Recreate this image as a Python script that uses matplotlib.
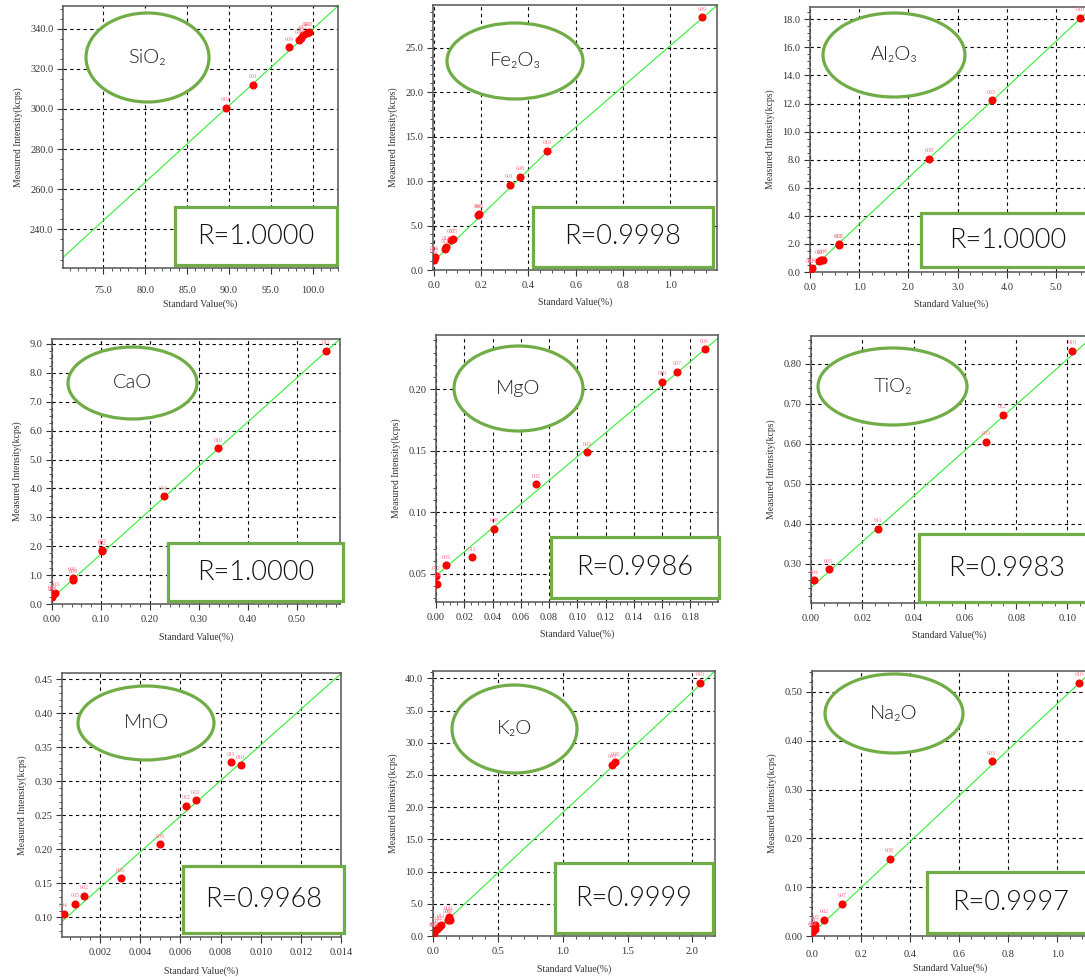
import matplotlib
matplotlib.use('Agg')
import matplotlib.pyplot as plt
from matplotlib.patches import Ellipse, Rectangle
from matplotlib.ticker import MultipleLocator, FormatStrFormatter

W, H = 1085, 977

# ---- data ----
sio2_x = [89.6, 92.9, 97.2, 98.4, 98.6, 98.8, 99.3, 99.5]
sio2_y = [300.7, 312.0, 330.8, 334.2, 335.5, 336.7, 338.0, 338.2]
sio2_ids = ['010', '001', '009', '006', '011', '012', '002', '005']
sio2_line_x = [70.0, 103.0]
sio2_line_y = [225.3, 351.3]

fe2o3_x = [0.0, 0.004, 0.047, 0.051, 0.075, 0.082, 0.186, 0.193, 0.321, 0.367, 0.48, 1.134]
fe2o3_y = [1.12, 1.5, 2.34, 2.64, 3.4, 3.46, 6.2, 6.25, 9.6, 10.5, 13.4, 28.4]
fe2o3_ids = ['002', '004', '011', '012', '007', '003', '006', '005', '001', '008', '010', '009']
fe2o3_line_x = [0.0, 0.48, 1.2]
fe2o3_line_y = [1.0, 13.3, 29.8]

al2o3_x = [0.01, 0.05, 0.19, 0.22, 0.27, 0.58, 0.59, 2.42, 3.69, 5.49]
al2o3_y = [0.17, 0.28, 0.78, 0.83, 0.88, 1.93, 1.97, 8.08, 12.23, 18.1]
al2o3_ids = ['002', '004', '011', '007', '009', '012', '006', '008', '003', '010']
al2o3_line_x = [0.0, 2.42, 3.75, 5.75]
al2o3_line_y = [0.1, 8.1, 12.35, 18.9]

cao_x = [0.0, 0.0, 0.007, 0.042, 0.043, 0.102, 0.103, 0.228, 0.339, 0.559]
cao_y = [0.24, 0.29, 0.38, 0.90, 0.84, 1.88, 1.82, 3.72, 5.39, 8.76]
cao_ids = ['005', '006', '003', '008', '009', '007', '002', '004', '010', '011']
cao_line_x = [0.0, 0.588]
cao_line_y = [0.2, 9.17]

mgo_x = [0.0005, 0.0, 0.0071, 0.0252, 0.041, 0.0707, 0.1071, 0.160, 0.1707, 0.190]
mgo_y = [0.0418, 0.0481, 0.0568, 0.0633, 0.0867, 0.1228, 0.1489, 0.2063, 0.2144, 0.2326]
mgo_ids = ['004', '012', '005', '011', '008', '002', '003', '010', '007', '006']
mgo_line_x = [0.001, 0.2014]
mgo_line_y = [0.0495, 0.2435]

tio2_x = [0.0013, 0.0069, 0.026, 0.0683, 0.0747, 0.1017]
tio2_y = [0.258, 0.2857, 0.3874, 0.6054, 0.6733, 0.8327]
tio2_ids = ['004', '005', '011', '003', '012', '010']
tio2_line_x = [0.0, 0.108]
tio2_line_y = [0.2403, 0.858]

mno_x = [0.00018, 0.00076, 0.00122, 0.00302, 0.00498, 0.0063, 0.00676, 0.0085, 0.0090]
mno_y = [0.1054, 0.1196, 0.1318, 0.1577, 0.2075, 0.2642, 0.272, 0.3277, 0.3233]
mno_ids = ['004', '005', '002', '006', '008', '012', '003', '011', '010']
mno_line_x = [0.0001, 0.014]
mno_line_y = [0.0941, 0.458]

k2o_x = [0.0, 0.01, 0.03, 0.049, 0.062, 0.113, 0.12, 0.128, 1.382, 1.403, 2.062]
k2o_y = [0.31, 0.52, 1.03, 1.45, 1.7, 2.48, 3.0, 2.48, 26.6, 27.0, 39.28]
k2o_ids = ['004', '002', '005', '012', '011', '006', '009', '007', '003', '008', '010']
k2o_line_x = [0.0, 2.174]
k2o_line_y = [0.41, 41.14]

na2o_x = [0.0, 0.004, 0.011, 0.014, 0.050, 0.122, 0.316, 0.732, 1.09]
na2o_y = [0.008, 0.010, 0.015, 0.0219, 0.0335, 0.066, 0.158, 0.358, 0.519]
na2o_ids = ['004', '012', '011', '005', '002', '007', '008', '003', '010']
na2o_line_x = [0.0, 1.125]
na2o_line_y = [0.005, 0.535]

names = ['SiO₂', 'Fe₂O₃', 'Al₂O₃', 'CaO', 'MgO', 'TiO₂', 'MnO', 'K₂O', 'Na₂O']
r_values = ['1.0000', '0.9998', '1.0000', '1.0000', '0.9986', '0.9983', '0.9968', '0.9999', '0.9997']

series = [
    (sio2_x, sio2_y, sio2_ids, sio2_line_x, sio2_line_y),
    (fe2o3_x, fe2o3_y, fe2o3_ids, fe2o3_line_x, fe2o3_line_y),
    (al2o3_x, al2o3_y, al2o3_ids, al2o3_line_x, al2o3_line_y),
    (cao_x, cao_y, cao_ids, cao_line_x, cao_line_y),
    (mgo_x, mgo_y, mgo_ids, mgo_line_x, mgo_line_y),
    (tio2_x, tio2_y, tio2_ids, tio2_line_x, tio2_line_y),
    (mno_x, mno_y, mno_ids, mno_line_x, mno_line_y),
    (k2o_x, k2o_y, k2o_ids, k2o_line_x, k2o_line_y),
    (na2o_x, na2o_y, na2o_ids, na2o_line_x, na2o_line_y),
]

# ---- layout (pixels) ----
# axes box: left, top, right, bottom
axes_px = [(63, 6, 338, 268), (433, 5, 717, 270), (810, 7, 1093, 272),
           (52, 339, 340, 604), (436, 335, 718, 602), (811, 336, 1088, 603),
           (62, 673, 341, 937), (433, 671, 715, 936), (812, 671, 1088, 936)]
ellipse_px = [(86, 13, 209, 102), (447, 23, 583, 99), (823, 13, 965, 97),
              (68, 347, 197, 419), (454, 346, 583, 431), (818, 348, 967, 425),
              (78, 686, 214, 760), (452, 685, 577, 773), (825, 674, 963, 753)]
box_px = [(175, 207, 337, 265), (533, 207, 713, 267), (921, 213, 1095, 267),
          (168, 543, 343, 601), (551, 537, 719, 598), (919, 534, 1095, 602),
          (183, 866, 344, 933), (555, 863, 713, 933), (927, 872, 1095, 933)]
# xlim, ylim, x major, y major, x minor, y minor, x fmt, y fmt
axis_cfg = [
    ((70.2, 103), (220.8, 351.3), 5, 20, 1, 5, '%.1f', '%.1f'),
    ((-0.003, 1.198), (0, 29.8), 0.2, 5, 0.05, 1, '%.1f', '%.1f'),
    ((0, 5.75), (0, 18.88), 1, 2, 0.25, 0.5, '%.1f', '%.1f'),
    ((0, 0.588), (0, 9.17), 0.1, 1, 0.02, 0.25, '%.2f', '%.1f'),
    ((0, 0.1995), (0.027, 0.2443), 0.02, 0.05, 0.005, 0.01, '%.2f', '%.2f'),
    ((0, 0.108), (0.2015, 0.870), 0.02, 0.1, 0.005, 0.02, '%.2f', '%.2f'),
    ((0.0001, 0.014), (0.0712, 0.459), 0.002, 0.05, 0.0005, 0.01, '%.3f', '%.2f'),
    ((0, 2.174), (0, 41.14), 0.5, 5, 0.1, 1, '%.1f', '%.1f'),
    ((0, 1.125), (0, 0.543), 0.2, 0.1, 0.05, 0.02, '%.1f', '%.2f'),
]
xpad = [9, 4, 4, 4, 4, 4, 4, 4, 6]
xlabelpad = [3, 5, 5, 6, 5, 5, 7, 6, 3]

green = '#70ad47'
plt.rcParams['font.family'] = ['Liberation Serif']
sans = ['Lato', 'Noto Sans CJK SC', 'DejaVu Sans']

fig = plt.figure(figsize=(W / 100, H / 100), dpi=100)

for i in range(9):
    xs, ys, ids, lx, ly = series[i]
    l, t, r, b = axes_px[i]
    ax = fig.add_axes([l / W, 1 - b / H, (r - l) / W, (b - t) / H])
    xlim, ylim, xmaj, ymaj, xmin, ymin, xf, yf = axis_cfg[i]

    ax.plot(lx, ly, color='#33ee33', linewidth=0.8, zorder=2)
    ax.plot(xs, ys, 'o', color='#ff0000', markersize=4.8, zorder=3)
    for x, y, s in zip(xs, ys, ids):
        ax.annotate(s, (x, y), xytext=(0, 4), textcoords='offset points',
                    ha='center', va='bottom', fontsize=4.2, color='#ff6e82', zorder=4)

    ax.set_xlim(xlim)
    ax.set_ylim(ylim)
    ax.xaxis.set_major_locator(MultipleLocator(xmaj))
    ax.yaxis.set_major_locator(MultipleLocator(ymaj))
    ax.xaxis.set_minor_locator(MultipleLocator(xmin))
    ax.yaxis.set_minor_locator(MultipleLocator(ymin))
    ax.xaxis.set_major_formatter(FormatStrFormatter(xf))
    ax.yaxis.set_major_formatter(FormatStrFormatter(yf))
    ax.grid(True, which='major', linestyle=(0, (3, 3)), color='black', linewidth=0.8)
    ax.tick_params(which='major', direction='out', length=4, width=0.8,
                   labelsize=7.4, colors='#333333', pad=3)
    ax.tick_params(axis='x', which='major', pad=xpad[i])
    ax.tick_params(which='minor', direction='out', length=2, width=0.6, colors='#333333')
    for sp in ax.spines.values():
        sp.set_color('#555555')
        sp.set_linewidth(1.1)
    ax.set_xlabel('Standard Value(%)', fontsize=7, color='#333333', labelpad=xlabelpad[i])
    ax.set_ylabel('Measured Intensity(kcps)', fontsize=7, color='#333333', labelpad=5)

    # element name in an ellipse
    x0, y0, x1, y1 = ellipse_px[i]
    cx, cy = (x0 + x1) / 2 / W, 1 - (y0 + y1) / 2 / H
    fig.add_artist(Ellipse((cx, cy), (x1 - x0) / W, (y1 - y0) / H, transform=fig.transFigure,
                           facecolor='white', edgecolor=green, linewidth=2.3, zorder=5))
    fig.text(cx, cy, names[i], ha='center', va='center', fontsize=14.5, fontweight=300,
             family=sans, color='#222222', zorder=6)

    # correlation coefficient box
    x0, y0, x1, y1 = box_px[i]
    fig.add_artist(Rectangle((x0 / W, 1 - y1 / H), (x1 - x0) / W, (y1 - y0) / H,
                             transform=fig.transFigure, facecolor='white',
                             edgecolor=green, linewidth=2.3, zorder=5))
    fig.text((x0 + x1) / 2 / W, 1 - (y0 + y1) / 2 / H, 'R=' + r_values[i], ha='center',
             va='center', fontsize=19.5, fontweight=300, family=sans,
             color='#111111', zorder=6)

fig.savefig('out.png', dpi=100)
